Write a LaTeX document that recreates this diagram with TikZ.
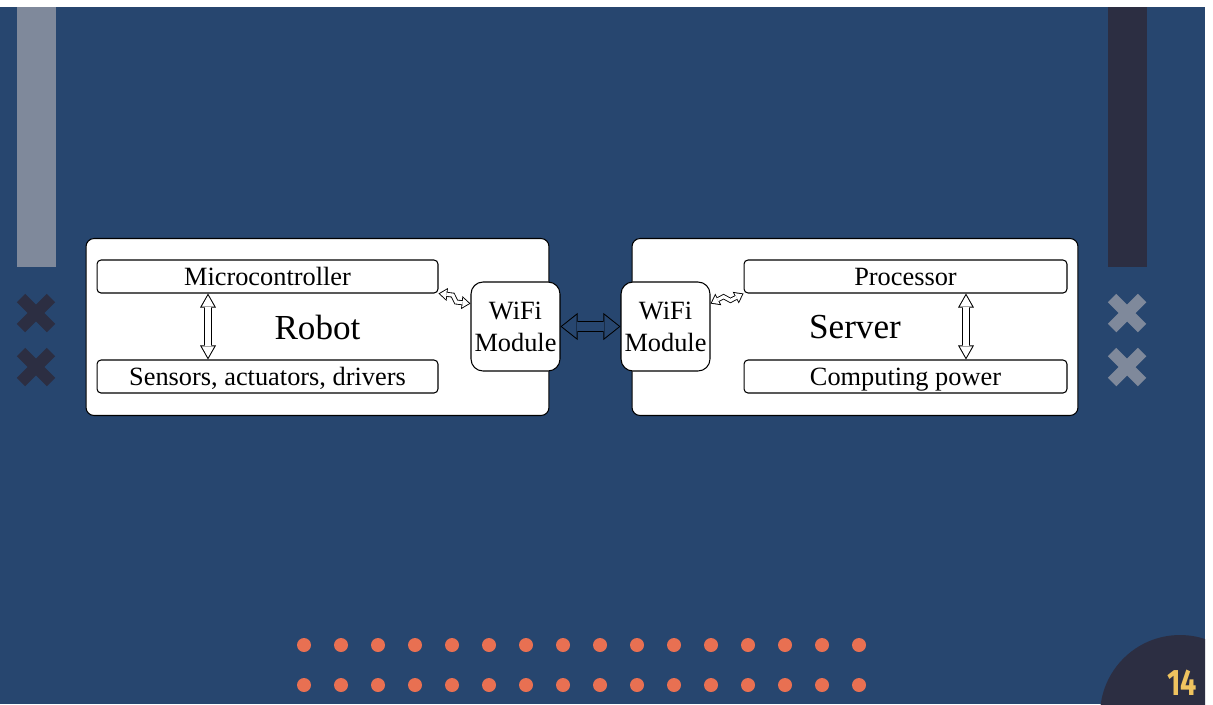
\documentclass[tikz,border=0pt]{standalone}
\usepackage{fontspec}
\setmainfont{Liberation Serif}
\newfontfamily\numfont[FakeStretch=0.78]{Fira Sans}
\usetikzlibrary{arrows.meta,calc}
\definecolor{slide}{HTML}{27466F}
\definecolor{steel}{HTML}{7F899B}
\definecolor{ink}{HTML}{2C2E42}
\definecolor{coral}{HTML}{E87052}
\definecolor{gold}{HTML}{EFC35F}
\begin{document}
\begin{tikzpicture}[x=0.02cm,y=-0.02cm,
    cross/.style={line width=0.24cm},
    block/.style={draw,line width=0.6pt,fill=white,rounded corners=0.16cm,inner sep=0pt,
      minimum height=3.54cm,font=\fontsize{20}{24}\selectfont},
    item/.style={draw,line width=0.6pt,fill=white,rounded corners=0.08cm,inner sep=0pt,
      minimum height=0.66cm,text height=12pt,text depth=1.5pt,font=\fontsize{15}{18}\selectfont},
    wifi/.style={draw,line width=0.6pt,fill=white,rounded corners=0.24cm,inner sep=0pt,
      minimum size=1.78cm,align=center,font=\fontsize{15}{18.2}\selectfont},
    vpipe/.style={line width=4.5pt,>={Triangle[width=9.1pt,length=8pt,line width=0pt]},<->,
      postaction={draw=white,line width=3.4pt,shorten <=1.15pt,shorten >=1.15pt,
        >={Triangle[width=7.1pt,length=6.3pt,line width=0pt]},<->}},
    hpipe/.style={line width=6.8pt,>={Triangle[width=15.4pt,length=9.7pt,line width=0pt]},<->,
      postaction={draw=slide,line width=5.6pt,shorten <=0.92pt,shorten >=0.92pt,
        >={Triangle[width=13pt,length=8.2pt,line width=0pt]},<->}},
    spipe/.style={line width=2.8pt,>={Triangle[width=7.4pt,length=5pt,line width=0pt]},<->,
      postaction={draw=white,line width=1.8pt,shorten <=0.9pt,shorten >=0.9pt,
        >={Triangle[width=5.4pt,length=3.6pt,line width=0pt]},<->}},
    bolt/.style={to path={-- ($(\tikztostart)!0.42!(\tikztotarget)!1.6pt!90:(\tikztotarget)$)
      -- ($(\tikztostart)!0.58!(\tikztotarget)!1.6pt!-90:(\tikztotarget)$) -- (\tikztotarget)}}]
  \fill[white] (0,0) rectangle (1213,704);
  \fill[slide] (0,7) rectangle (1205,704);
  \fill[steel] (17,7) rectangle (56,267);
  \fill[ink] (1108,7) rectangle (1147,267);
  \foreach \y in {313,367}
    \foreach \x/\c in {36/ink,1127/steel}
      \draw[cross,\c] (\x-15,\y-15) -- (\x+15,\y+15) (\x-15,\y+15) -- (\x+15,\y-15);
  \foreach \i in {0,...,15}
    \foreach \y in {645,685}
      \fill[coral] (304+37*\i,\y) circle (0.14cm);
  \begin{scope}
    \clip (0,7) rectangle (1205,704);
    \fill[ink] (1180,715) circle (1.6cm);
  \end{scope}
  \node[gold,font=\numfont\bfseries\fontsize{21}{21}\selectfont] (pagenum) at (1182,683) {14};

  \node[block,minimum width=9.26cm] (robot) at (317.5,327) {Robot};
  \node[item,minimum width=6.82cm] (mcu) at (267.5,276.5) {Microcontroller};
  \node[item,minimum width=6.82cm] (sens) at (267.5,376.5) {Sensors, actuators, drivers};
  \node[wifi] (wifiL) at (515.5,326.5) {WiFi\\Module};
  \node[block,minimum width=8.92cm] (server) at (855,327) {Server};
  \node[item,minimum width=6.46cm] (proc) at (905.5,276.5) {Processor};
  \node[item,minimum width=6.46cm] (comp) at (905.5,376.5) {Computing power};
  \node[wifi] (wifiR) at (665.5,326.5) {WiFi\\Module};

  \draw[vpipe] ([xshift=-1.19cm]mcu.south) -- ([xshift=-1.19cm]sens.north);
  \draw[vpipe] ([xshift=1.21cm]proc.south) -- ([xshift=1.21cm]comp.north);
  \draw[hpipe] (wifiL.east) -- (wifiR.west);
  \draw[spipe,bolt] (mcu.south east) to (wifiL.153);
  \draw[spipe,bolt] (wifiR.27) to (proc.south west);
\end{tikzpicture}
\end{document}
